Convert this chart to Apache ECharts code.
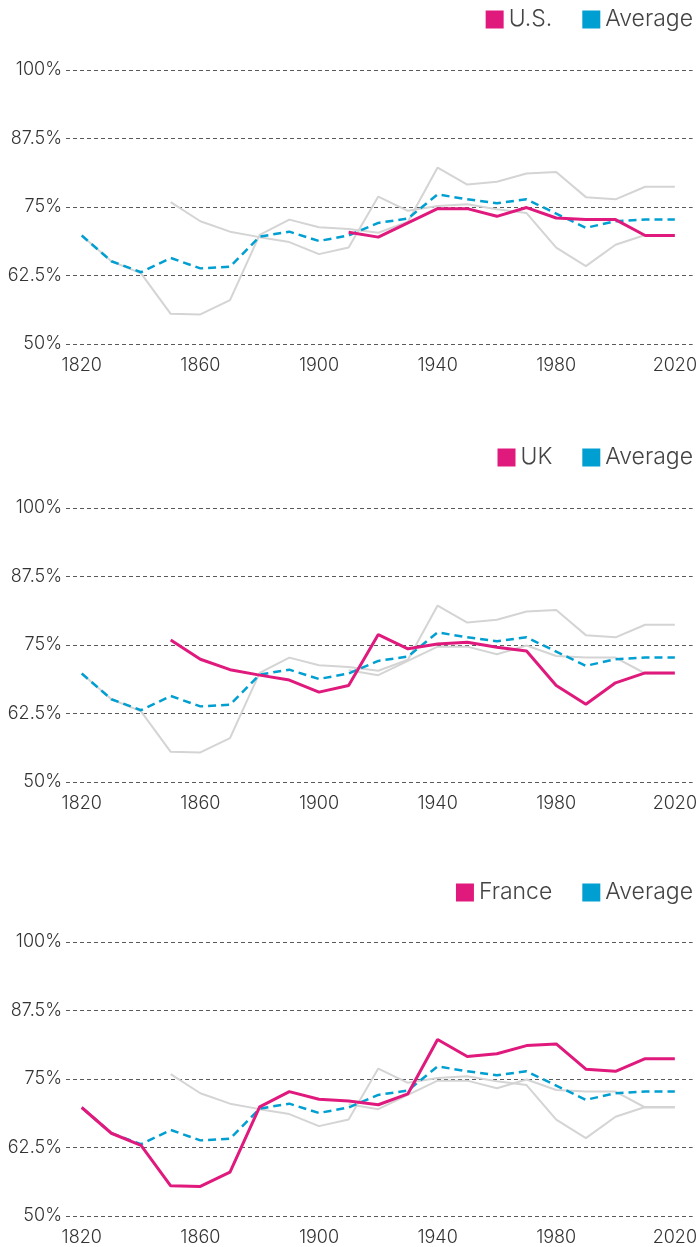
<!DOCTYPE html>
<html>
<head>
<meta charset="utf-8">
<script src="https://cdn.jsdelivr.net/npm/echarts@6/dist/echarts.min.js"></script>
<style>
html,body{margin:0;padding:0;background:#fff;}
#chart{width:700px;height:1247px;}
</style>
</head>
<body>
<div id="chart"></div>
<script>
// Decades
const years = [1820,1830,1840,1850,1860,1870,1880,1890,1900,1910,1920,1930,1940,1950,1960,1970,1980,1990,2000,2010,2020];
const xTickLabels = [1820,1860,1900,1940,1980,2020];
const yTicks = [50,62.5,75,87.5,100];

// Values (%), null = no data
const us = [null,null,null,null,null,null,null,null,null,70.4,69.5,72.1,74.7,74.7,73.3,74.9,73.0,72.7,72.7,69.8,69.8];
const uk = [null,null,null,75.9,72.4,70.5,69.5,68.6,66.4,67.6,76.9,74.3,75.2,75.5,74.6,73.9,67.6,64.2,68.1,69.9,69.9];
const france = [69.8,65.1,62.9,55.5,55.4,58.0,69.9,72.7,71.3,71.0,70.3,72.3,82.2,79.1,79.6,81.1,81.4,76.8,76.4,78.7,78.7];
const average = [69.8,65.1,63.1,65.7,63.8,64.1,69.6,70.5,68.8,69.8,72.1,72.9,77.3,76.4,75.7,76.4,73.8,71.2,72.4,72.7,72.7];

const countries = [
  {name:'U.S.', values:us},
  {name:'UK', values:uk},
  {name:'France', values:france}
];

const MAGENTA = '#e0197d';
const BLUE = '#009fd1';
const GRAY = '#d4d4d4';
const FONT = 'Inter';

const gridTops = [70, 508, 942];
const gridH = 274;
const legendTops = [8, 446, 881];

function pairs(vals){ return years.map((y,i)=>[y, vals[i]]); }

const grids = [], xAxes = [], yAxes = [], series = [], legends = [];
countries.forEach((c, p) => {
  grids.push({left:66, right:0, top:gridTops[p], height:gridH, containLabel:false});
  xAxes.push({
    type:'value', gridIndex:p, min:1814.7, max:2026,
    axisLine:{show:false}, axisTick:{show:false}, splitLine:{show:false},
    axisLabel:{customValues:xTickLabels, margin:13, fontSize:18, color:'#333', fontFamily:FONT, fontWeight:300, formatter:v=>String(v)}
  });
  yAxes.push({
    type:'value', gridIndex:p, min:50, max:100, interval:12.5,
    axisLine:{show:false}, axisTick:{show:false},
    splitLine:{show:true, lineStyle:{color:'#5a5a5a', width:1, type:[4,3]}},
    axisLabel:{margin:4, fontSize:18, color:'#333', fontFamily:FONT, fontWeight:300, formatter:v=>v+'%'}
  });
  // gray others
  countries.forEach((o, q) => {
    if (q === p) return;
    series.push({
      name:'other-'+o.name+'-'+p, type:'line', xAxisIndex:p, yAxisIndex:p,
      data:pairs(o.values), showSymbol:false, symbol:'none', connectNulls:false,
      lineStyle:{color:GRAY, width:2}, itemStyle:{color:GRAY}, z:2, silent:true
    });
  });
  series.push({
    name:'Average', type:'line', xAxisIndex:p, yAxisIndex:p,
    data:pairs(average), showSymbol:false, symbol:'none',
    lineStyle:{color:BLUE, width:2.5, type:[8,5]}, itemStyle:{color:BLUE}, z:3
  });
  series.push({
    name:c.name, type:'line', xAxisIndex:p, yAxisIndex:p,
    data:pairs(c.values), showSymbol:false, symbol:'none', connectNulls:false,
    lineStyle:{color:MAGENTA, width:3}, itemStyle:{color:MAGENTA}, z:4
  });
  legends.push({
    data:[{name:c.name, icon:'rect'},{name:'Average', icon:'rect'}],
    top:legendTops[p], right:7, padding:0, itemWidth:18, itemHeight:18, itemGap:30,
    selectedMode:false,
    textStyle:{fontSize:23, color:'#444', fontFamily:FONT, fontWeight:300}
  });
});

const chart = echarts.init(document.getElementById('chart'), null, {renderer:'canvas'});
chart.setOption({
  animation:false,
  backgroundColor:'#fff',
  grid:grids, xAxis:xAxes, yAxis:yAxes, series:series, legend:legends
});
</script>
</body>
</html>
